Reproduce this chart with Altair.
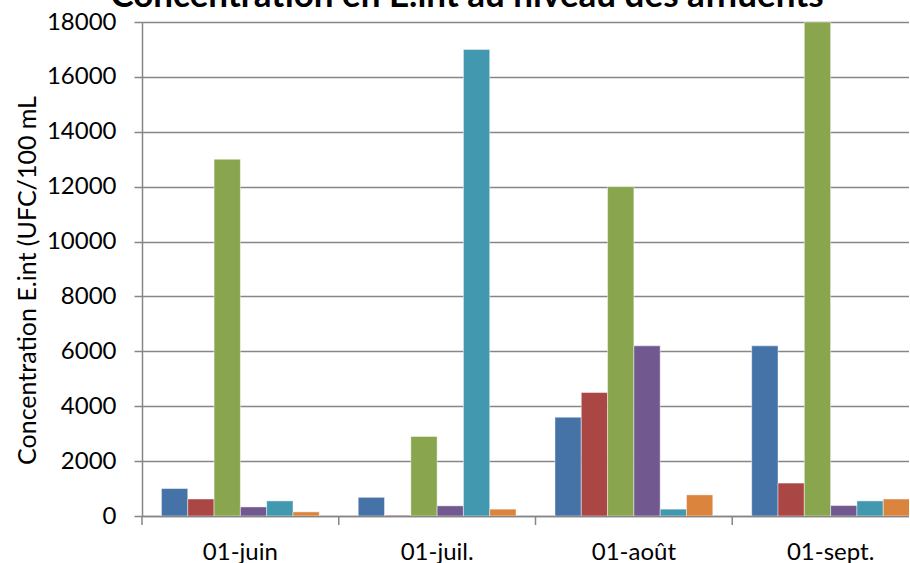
import altair as alt
import pandas as pd

title_text = ["Concentration en E.int au niveau des affluents"]
categories = ["01-juin", "01-juil.", "01-août", "01-sept."]
series_names = ["Affluent 1", "Affluent 2", "Affluent 3", "Affluent 4", "Affluent 5", "Affluent 6"]
s1 = [1000, 680, 3600, 6200]
s2 = [620, 30, 4500, 1200]
s3 = [13000, 2900, 12000, 18000]
s4 = [330, 370, 6200, 380]
s5 = [550, 17000, 250, 550]
s6 = [150, 250, 770, 620]
colors = ["#4572A7", "#AA4643", "#89A54E", "#71588F", "#4198AF", "#DB843D"]
y_ticks = [0, 2000, 4000, 6000, 8000, 10000, 12000, 14000, 16000, 18000]

rows = []
for name, vals in zip(series_names, [s1, s2, s3, s4, s5, s6]):
    for c, v in zip(categories, vals):
        rows.append({"cat": c, "serie": name, "val": v})
df = pd.DataFrame(rows)
df_cat = pd.DataFrame({"cat": categories})
df_title = pd.DataFrame({"t": title_text})

FONT = "Lato"
GRAY = "#868686"

xscale = alt.Scale(domain=categories, range=[0, 787], paddingInner=0, paddingOuter=0)

bars = alt.Chart(df).mark_bar(clip=True, stroke="white", strokeOpacity=0.45, strokeWidth=1).encode(
    x=alt.X("cat:N", sort=categories, scale=xscale,
            axis=alt.Axis(title=None, ticks=False, labelFontSize=24, labelFont=FONT,
                          labelColor="#000000", labelPadding=24, labelAngle=0,
                          domainColor=GRAY, domainWidth=1.5)),
    xOffset=alt.XOffset("serie:N", sort=series_names,
                        scale=alt.Scale(domain=series_names, paddingInner=0, paddingOuter=0.74)),
    y=alt.Y("val:Q", scale=alt.Scale(domain=[0, 18000], nice=False),
            axis=alt.Axis(title="Concentration E.int (UFC/100 mL", values=y_ticks,
                          titleFontSize=25, titleFont=FONT, titleFontWeight="normal",
                          titleColor="#000000", titlePadding=6, titleY=258,
                          labelFontSize=24, labelFont=FONT, labelColor="#000000",
                          labelPadding=18, tickSize=8, tickColor=GRAY, tickWidth=1.5,
                          domainColor=GRAY, domainWidth=1.5,
                          grid=True, gridColor=GRAY, gridWidth=1.5, format="d")),
    color=alt.Color("serie:N", sort=series_names,
                    scale=alt.Scale(domain=series_names, range=colors), legend=None),
)

xticks = alt.Chart(df_cat).mark_rule(color=GRAY, strokeWidth=1.5).encode(
    x=alt.X("cat:N", sort=categories, scale=xscale, bandPosition=0),
    y=alt.value(494),
    y2=alt.value(503),
)

title = alt.Chart(df_title).mark_text(
    font=FONT, fontSize=35, fontWeight="bold", color="#000000",
    align="center", baseline="alphabetic"
).encode(text="t:N", x=alt.value(325), y=alt.value(-15))

chart = alt.layer(bars, xticks, title).properties(
    width=767,
    height=494,
    padding={"left": 142, "top": 22, "right": 0, "bottom": 47},
    autosize=alt.AutoSizeParams(type="none"),
    background="white",
).configure_view(stroke=None)

chart.save("out.html", embed_options={"renderer": "svg", "actions": False})
